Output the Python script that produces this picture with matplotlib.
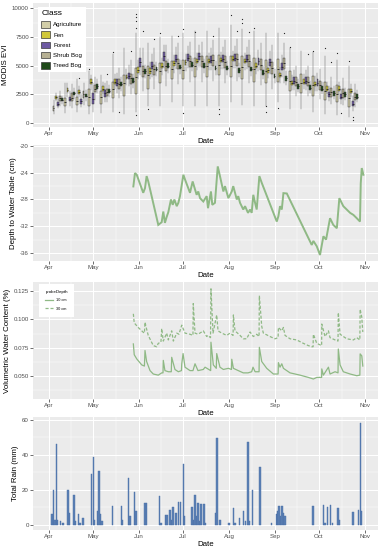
import numpy as np
import matplotlib
matplotlib.use('Agg')
import matplotlib.pyplot as plt
from matplotlib.patches import Patch
from matplotlib.lines import Line2D

plt.rcParams['font.family'] = ['Liberation Sans', 'DejaVu Sans']

# ---------------- axis data ----------------
month_doy = [91, 121, 152, 182, 213, 244, 274, 305]
month_labels = ['Apr', 'May', 'Jun', 'Jul', 'Aug', 'Sep', 'Oct', 'Nov']

# ---------------- Panel 1: MODIS EVI (8-day composites) ----------------
evi_doy = [97, 105, 113, 121, 129, 137, 145, 153, 161, 169, 177, 185, 193,
           201, 209, 217, 225, 233, 241, 249, 257, 265, 273, 281, 289, 297]
evi_classes = ['Agriculture', 'Fen', 'Forest', 'Shrub Bog', 'Treed Bog']
# (whislo, q1, median, q3, whishi)
evi_agriculture = [
    (800, 1100, 1300, 1500, 2000), (900, 1500, 1800, 2200, 3500), (1000, 1600, 1900, 2300, 3800),
    (800, 1500, 2300, 3000, 4500), (900, 1700, 2300, 2800, 4200), (1000, 2200, 3000, 3600, 6000),
    (800, 2400, 3500, 4200, 6500), (1000, 2500, 4000, 4800, 7800), (1500, 3000, 4200, 5000, 7000),
    (1500, 3500, 4500, 5200, 7500), (1800, 3800, 4700, 5400, 7600), (1500, 3800, 4600, 5500, 7800),
    (1500, 4000, 5000, 5700, 8000), (1500, 4000, 5000, 5800, 8000), (1500, 4200, 5100, 5900, 8300),
    (1800, 4000, 5000, 5800, 8500), (1600, 3800, 4900, 5800, 8200), (1500, 3600, 4700, 5700, 8000),
    (1500, 3500, 4500, 5500, 7800), (1800, 3600, 4700, 5600, 7800), (1200, 2800, 3700, 4500, 6500),
    (1200, 2600, 3500, 4300, 6300), (1000, 2400, 3300, 4100, 6200), (800, 2000, 2800, 3600, 5800),
    (700, 1800, 2500, 3300, 5500), (500, 1400, 2200, 3000, 5000)]
evi_fen = [
    (1900, 2100, 2250, 2400, 2600), (2300, 2700, 2900, 3100, 3500), (2300, 2500, 2700, 2850, 3200),
    (2900, 3400, 3600, 3800, 4200), (2500, 2800, 3000, 3200, 3600), (3000, 3400, 3600, 3800, 4300),
    (3300, 3800, 4000, 4200, 4700), (3800, 4400, 4600, 4900, 5500), (3800, 4300, 4500, 4800, 5300),
    (4200, 4800, 5000, 5200, 5700), (4400, 5000, 5200, 5400, 5900), (4500, 5100, 5300, 5500, 6000),
    (4600, 5200, 5400, 5600, 6100), (4600, 5200, 5400, 5600, 6100), (4700, 5300, 5500, 5700, 6200),
    (4800, 5400, 5600, 5800, 6300), (4600, 5200, 5400, 5600, 6100), (4300, 4800, 5000, 5200, 5700),
    (3900, 4400, 4600, 4800, 5300), (3500, 4000, 4200, 4400, 4900), (2900, 3300, 3500, 3700, 4200),
    (3000, 3400, 3600, 3800, 4300), (2800, 3200, 3400, 3600, 4100), (2500, 2800, 3000, 3200, 3600),
    (2500, 2800, 3000, 3200, 3600), (2300, 2600, 2800, 3000, 3400)]
evi_forest = [
    (1300, 1500, 1650, 1800, 2100), (1500, 1900, 2100, 2300, 2800), (1400, 1700, 1900, 2100, 2500),
    (1000, 1700, 2100, 2600, 3500), (1800, 2300, 2600, 2900, 3500), (2600, 3200, 3500, 3800, 4400),
    (3200, 3800, 4100, 4400, 5100), (4200, 4900, 5300, 5700, 6500), (4000, 4700, 5000, 5300, 6000),
    (4800, 5400, 5800, 6200, 6800), (4700, 5300, 5600, 5900, 6600), (4800, 5400, 5700, 6000, 6700),
    (4900, 5500, 5800, 6100, 6800), (4600, 5200, 5500, 5800, 6500), (4700, 5300, 5600, 5900, 6600),
    (4800, 5400, 5700, 6000, 6700), (4700, 5300, 5600, 5900, 6600), (4500, 5100, 5400, 5700, 6400),
    (4300, 5000, 5300, 5600, 6300), (4000, 4600, 4900, 5200, 5900), (2900, 3400, 3700, 4000, 4600),
    (2900, 3400, 3700, 4000, 4600), (2800, 3200, 3500, 3800, 4400), (1900, 2300, 2500, 2700, 3200),
    (1700, 2100, 2300, 2500, 3000), (1100, 1500, 1700, 1900, 2400)]
evi_shrub_bog = [
    (1500, 1900, 2200, 2400, 2800), (1300, 1900, 2200, 2600, 3400), (1600, 2200, 2500, 2800, 3500),
    (2000, 2700, 3000, 3300, 4000), (1800, 2400, 2700, 3000, 3700), (2200, 3000, 3400, 3800, 4800),
    (2500, 3400, 3900, 4300, 5500), (2800, 4000, 4500, 5000, 6500), (3000, 4200, 4700, 5100, 6500),
    (3200, 4500, 5000, 5400, 6800), (3400, 4700, 5200, 5600, 7000), (3600, 4900, 5400, 5800, 7100),
    (3600, 4900, 5400, 5800, 7100), (3700, 5000, 5500, 5900, 7200), (3500, 4800, 5300, 5800, 7200),
    (3700, 5000, 5600, 6000, 7300), (3500, 4900, 5400, 5900, 7200), (3300, 4600, 5100, 5600, 7000),
    (3000, 4300, 4800, 5300, 6800), (3500, 4700, 5200, 5700, 7000), (2400, 3200, 3600, 4000, 5000),
    (2400, 3200, 3600, 4000, 5000), (2100, 2900, 3300, 3700, 4700), (1700, 2300, 2700, 3100, 4000),
    (1600, 2200, 2600, 3000, 3900), (1400, 2000, 2300, 2600, 3400)]
evi_treed_bog = [
    (1700, 1900, 2000, 2150, 2400), (2100, 2450, 2600, 2750, 3100), (1900, 2250, 2400, 2550, 2900),
    (2600, 3000, 3200, 3400, 3800), (2300, 2650, 2800, 2950, 3300), (2800, 3200, 3400, 3600, 4000),
    (3100, 3500, 3700, 3900, 4300), (3900, 4300, 4500, 4700, 5100), (4100, 4500, 4700, 4900, 5300),
    (4400, 4800, 5000, 5200, 5600), (4300, 4700, 4900, 5100, 5500), (4500, 4900, 5100, 5300, 5700),
    (4400, 4800, 5000, 5200, 5600), (4200, 4600, 4800, 5000, 5400), (4200, 4600, 4800, 5000, 5400),
    (4000, 4400, 4600, 4800, 5200), (4100, 4500, 4700, 4900, 5300), (3800, 4200, 4400, 4600, 5000),
    (3500, 3900, 4100, 4300, 4700), (3300, 3700, 3900, 4100, 4500), (2700, 3000, 3200, 3400, 3800),
    (2600, 2900, 3100, 3300, 3700), (2500, 2800, 3000, 3200, 3600), (2100, 2400, 2600, 2800, 3200),
    (2000, 2300, 2500, 2700, 3100), (1800, 2100, 2300, 2500, 2900)]
evi_class_colors = ['#D2CEA8', '#D0C83A', '#6E5AA3', '#B7B194', '#1F4A1A']
# outliers: (composite doy, class index, value)
evi_outliers = [
    (113, 1, 3900), (121, 0, 4700), (129, 3, 4300), (137, 0, 6200), (137, 3, 1000),
    (145, 3, 6300), (153, 0, 9500), (153, 0, 9200), (153, 0, 8900), (153, 0, 8300),
    (153, 3, 8000), (153, 0, 700), (161, 3, 7300), (161, 0, 1200), (169, 0, 7800),
    (177, 3, 7600), (185, 0, 8200), (185, 0, 900), (193, 0, 7900), (201, 3, 7600),
    (209, 0, 1200), (209, 0, 800), (217, 0, 9400), (217, 3, 8000), (225, 0, 9100),
    (225, 0, 8700), (225, 3, 7900), (233, 0, 8300), (241, 0, 1500), (241, 0, 1000),
    (249, 3, 7800), (249, 0, 1300), (257, 0, 6600), (265, 3, 6000), (273, 0, 6300),
    (281, 0, 6500), (281, 3, 5300), (289, 0, 6100), (297, 0, 5400), (297, 2, 500),
    (297, 2, 300), (289, 2, 900)]

# ---------------- Panel 2: water table ----------------
wt_doy = [148.2, 149.3, 150.5, 154.9, 156.1, 157.2, 158.3, 165.1, 167.4, 168.5, 169.6, 170.8,
          171.9, 173.7, 174.9, 176.0, 177.6, 178.7, 179.8, 182.1, 183.2, 186.6, 188.4, 190.0,
          191.1, 192.2, 193.4, 195.6, 197.9, 198.8, 200.8, 201.7, 203.5, 205.4, 206.9, 209.2,
          210.3, 212.6, 214.9, 215.9, 218.3, 219.3, 220.5, 222.7, 223.9, 225.9, 227.3, 228.4,
          229.5, 230.7, 231.8, 233.6, 235.2, 245.4, 246.5, 247.6, 248.8, 249.9, 252.2, 269.1,
          270.2, 272.5, 274.7, 277.0, 278.8, 281.5, 283.7, 286.1, 287.8, 290.5, 295.1, 297.3,
          299.6, 301.8, 302.3, 303.0, 304.1]
wt_depth = [-26.05, -24.05, -24.3, -27.0, -26.3, -24.5, -25.3, -31.8, -31.4, -29.8, -31.5, -30.6,
            -29.9, -28.0, -28.8, -28.0, -29.0, -28.5, -27.5, -24.3, -25.0, -27.0, -25.3, -26.5,
            -27.3, -26.8, -27.8, -28.3, -27.5, -29.3, -26.8, -28.8, -28.5, -23.05, -24.5, -26.8,
            -26.0, -27.8, -26.8, -26.0, -28.0, -27.5, -28.5, -29.5, -29.0, -30.0, -29.5, -30.0,
            -27.3, -28.5, -29.5, -24.5, -25.5, -31.3, -30.5, -29.0, -29.5, -27.05, -27.1, -34.8,
            -34.2, -35.0, -36.3, -33.5, -34.0, -30.8, -31.8, -32.3, -27.8, -29.0, -30.0, -30.3,
            -30.8, -31.3, -25.6, -23.3, -24.3]

# ---------------- Panel 3: soil moisture ----------------
vwc10_doy = [148.2, 148.8, 150.5, 153.9, 155.7, 156.1, 157.2, 159.5, 161.7, 165.1, 167.4, 168.3,
             168.5, 169.6, 171.9, 173.9, 174.2, 176.4, 178.7, 180.8, 181.0, 181.9, 183.2, 186.6,
             188.6, 190.0, 192.0, 195.6, 196.8, 200.6, 200.8, 202.4, 204.4, 204.7, 206.9, 209.2,
             212.6, 214.7, 214.9, 216.0, 219.3, 222.7, 225.9, 228.4, 229.3, 230.7, 233.4, 233.6,
             235.2, 238.6, 243.1, 246.3, 246.5, 247.6, 248.8, 249.9, 254.4, 261.2, 266.8, 270.2,
             272.5, 275.8, 275.9, 277.0, 280.4, 281.5, 284.9, 286.9, 287.1, 288.3, 290.5, 295.1,
             299.6, 301.7, 301.9, 303.0, 303.7]
vwc10 = [0.0785, 0.069, 0.0653, 0.060, 0.059, 0.0727, 0.063, 0.055, 0.052, 0.051, 0.053, 0.053,
         0.064, 0.055, 0.054, 0.054, 0.0667, 0.056, 0.054, 0.055, 0.061, 0.070, 0.058, 0.055,
         0.055, 0.061, 0.055, 0.056, 0.058, 0.055, 0.080, 0.060, 0.057, 0.070, 0.058, 0.056,
         0.057, 0.056, 0.065, 0.057, 0.055, 0.053, 0.053, 0.054, 0.058, 0.054, 0.054, 0.0755,
         0.063, 0.057, 0.052, 0.052, 0.062, 0.058, 0.061, 0.057, 0.053, 0.051, 0.049, 0.0476,
         0.049, 0.049, 0.0565, 0.051, 0.058, 0.052, 0.054, 0.053, 0.074, 0.060, 0.054, 0.052,
         0.0505, 0.051, 0.0697, 0.068, 0.059]
vwc30_doy = [148.2, 148.8, 151.5, 154.7, 155.7, 156.1, 157.1, 158.3, 161.7, 164.0, 165.1, 166.9,
             167.4, 168.5, 170.8, 171.9, 174.2, 175.3, 177.6, 179.1, 181.0, 183.2, 186.6, 188.6,
             188.8, 190.0, 192.0, 194.5, 195.6, 197.9, 198.8, 200.5, 200.8, 202.2, 204.7, 205.6,
             208.1, 211.5, 213.7, 215.8, 216.0, 217.1, 220.5, 222.7, 225.0, 227.3, 229.5, 231.8,
             233.4, 233.6, 235.2, 236.3, 240.8, 244.2, 246.3, 246.5, 248.8, 249.9, 251.0, 254.4,
             258.9, 263.4, 266.8, 269.1, 270.0, 270.2, 272.5, 275.8, 275.9, 278.1, 280.4, 281.5,
             284.9, 286.9, 287.1, 288.3, 292.8, 297.3, 299.6, 301.7, 301.9, 303.0, 303.7]
vwc30 = [0.105, 0.097, 0.093, 0.089, 0.088, 0.0976, 0.092, 0.086, 0.077, 0.076, 0.079, 0.080,
         0.092, 0.081, 0.088, 0.082, 0.090, 0.081, 0.088, 0.087, 0.095, 0.088, 0.087, 0.086,
         0.114, 0.088, 0.087, 0.089, 0.090, 0.085, 0.086, 0.084, 0.127, 0.088, 0.104, 0.090,
         0.088, 0.086, 0.088, 0.086, 0.104, 0.090, 0.086, 0.083, 0.083, 0.089, 0.085, 0.087,
         0.085, 0.121, 0.094, 0.088, 0.085, 0.083, 0.084, 0.093, 0.090, 0.093, 0.086, 0.083,
         0.082, 0.079, 0.077, 0.076, 0.076, 0.087, 0.079, 0.077, 0.096, 0.085, 0.090, 0.084,
         0.082, 0.081, 0.106, 0.087, 0.083, 0.082, 0.084, 0.082, 0.109, 0.102, 0.089]

# ---------------- Panel 4: rain ----------------
rain_doy = [93, 94, 95, 96, 97, 99, 100, 101, 104, 105, 108, 109, 111, 112, 114, 120, 121, 122,
            124, 125, 126, 127, 134, 140, 141, 145, 146, 149, 150, 156, 157, 166, 167, 170, 171,
            173, 174, 175, 177, 179, 180, 182, 183, 188, 189, 190, 191, 192, 193, 194, 196, 197,
            204, 205, 207, 213, 216, 217, 220, 223, 224, 226, 227, 229, 234, 242, 245, 246, 247,
            248, 249, 250, 251, 270, 277, 278, 280, 282, 283, 287, 288, 297, 301, 302, 303]
rain_mm = [6, 20, 3, 46, 3, 2, 1, 1, 20, 7, 17, 2, 6, 1, 4, 29, 39, 3,
           8, 31, 6, 2, 10.5, 10.5, 3, 27, 5, 19, 8, 12.5, 12.5, 16.5, 1, 5.5, 5.5,
           8.6, 3, 10, 7, 13, 13, 35, 5, 10, 3, 17, 5, 12.5, 2, 12, 11.7, 1,
           7, 49.5, 3, 1, 9.5, 1, 4, 8, 2, 47.6, 2, 20, 33, 1, 6, 8, 10.5,
           5, 10.5, 7, 5, 10.5, 11.6, 1, 10, 11.5, 1, 9.6, 3, 7.5, 8.6, 58, 8]

# ---------------- figure ----------------
fig = plt.figure(figsize=(3.88, 5.5), dpi=100)
L, W = 33 / 388, 345 / 388
def axrect(top, bottom):
    return [L, 1 - bottom / 550, W, (bottom - top) / 550]

ax1 = fig.add_axes(axrect(3, 127))
ax2 = fig.add_axes(axrect(145, 261))
ax3 = fig.add_axes(axrect(282, 399))
ax4 = fig.add_axes(axrect(417, 530))

minor_x = [(a + b) / 2 for a, b in zip(month_doy[:-1], month_doy[1:])]
TICK_FS = 4.4
TITLE_FS = 5.7

def style(ax, yticks, ylabels, ylim, ylabel):
    ax.set_facecolor('#EBEBEB')
    for s in ax.spines.values():
        s.set_visible(False)
    ax.set_xlim(80.2, 314)
    ax.set_xticks(month_doy)
    ax.set_xticklabels(month_labels)
    ax.set_xticks(minor_x, minor=True)
    ax.set_yticks(yticks)
    ax.set_yticklabels(ylabels)
    ym = [(a + b) / 2 for a, b in zip(yticks[:-1], yticks[1:])]
    step = yticks[1] - yticks[0]
    ym = [yticks[0] - step / 2] + ym + [yticks[-1] + step / 2]
    ax.set_yticks(ym, minor=True)
    ax.set_ylim(*ylim)
    ax.grid(which='major', color='white', lw=0.75)
    ax.grid(which='minor', color='white', lw=0.35)
    ax.set_axisbelow(True)
    ax.tick_params(which='major', length=2, width=0.5, color='#333333',
                   labelsize=TICK_FS, labelcolor='#4D4D4D', pad=1)
    ax.tick_params(which='minor', length=0)
    ax.set_xlabel('Date', fontsize=TITLE_FS, labelpad=1)
    ax.set_ylabel(ylabel, fontsize=TITLE_FS, labelpad=2)

# Panel 1
all_classes = [evi_agriculture, evi_fen, evi_forest, evi_shrub_bog, evi_treed_bog]
group_w = 7.2
box_w = group_w / len(evi_classes)
for ci, (cls_stats, col) in enumerate(zip(all_classes, evi_class_colors)):
    stats = []
    pos = []
    for gi, (lo, q1, med, q3, hi) in enumerate(cls_stats):
        fl = [v for (d, c, v) in evi_outliers if d == evi_doy[gi] and c == ci]
        stats.append(dict(whislo=lo, q1=q1, med=med, q3=q3, whishi=hi, fliers=fl))
        pos.append(evi_doy[gi] - group_w / 2 + box_w * (ci + 0.5))
    ax1.bxp(stats, positions=pos, widths=box_w * 0.9, patch_artist=True, showcaps=False,
            boxprops=dict(facecolor=col, edgecolor='#3a3a3a', linewidth=0.35),
            medianprops=dict(color='#222222', linewidth=0.6),
            whiskerprops=dict(color='#666666', linewidth=0.35),
            flierprops=dict(marker='o', markersize=0.9, markerfacecolor='#222222',
                            markeredgecolor='none'),
            manage_ticks=False)
style(ax1, [0, 2500, 5000, 7500, 10000], ['0', '2500', '5000', '7500', '10000'],
      (-330, 10450), 'MODIS EVI')
handles = [Patch(facecolor=c, edgecolor='#3a3a3a', linewidth=0.5) for c in evi_class_colors]
leg = ax1.legend(handles, evi_classes, title='Class', loc='upper left', fontsize=TICK_FS,
                 title_fontsize=TITLE_FS + 0.3, frameon=True, fancybox=False, framealpha=1,
                 edgecolor='white', handlelength=1.35, handleheight=1.25, borderpad=0.6,
                 labelspacing=0.62, handletextpad=0.6, bbox_to_anchor=(0.005, 0.995),
                 alignment='left')
leg.get_frame().set_linewidth(0)

# Panel 2
ax2.plot(wt_doy, wt_depth, color='#8FB985', lw=1.4, solid_joinstyle='miter')
style(ax2, [-36, -32, -28, -24, -20], ['-36', '-32', '-28', '-24', '-20'],
      (-37.2, -19.85), 'Depth to Water Table (cm)')

# Panel 3
l10, = ax3.plot(vwc10_doy, vwc10, color='#8FB985', lw=0.9)
l30, = ax3.plot(vwc30_doy, vwc30, color='#8FB985', lw=0.9, ls=(0, (2.5, 1.5)))
style(ax3, [0.05, 0.075, 0.1, 0.125], ['0.050', '0.075', '0.100', '0.125'],
      (0.030, 0.133), 'Volumetric Water Content (%)')
leg3 = ax3.legend([l10, l30], ['10 cm', '30 cm'], title='probeDepth', loc='upper left',
                  fontsize=2.8, title_fontsize=3.2, frameon=True, fancybox=False, framealpha=1,
                  edgecolor='white', handlelength=2.0, borderpad=1.6, labelspacing=1.1,
                  bbox_to_anchor=(0.012, 1.0), alignment='left')
leg3.get_frame().set_linewidth(0)

# Panel 4
ax4.bar(rain_doy, rain_mm, width=0.9, color='#5B80B5', edgecolor='#4A6FA5', linewidth=0.3)
style(ax4, [0, 20, 40, 60], ['0', '20', '40', '60'], (-3, 61.7), 'Total Rain (mm)')

fig.savefig('out.png', dpi=100)
